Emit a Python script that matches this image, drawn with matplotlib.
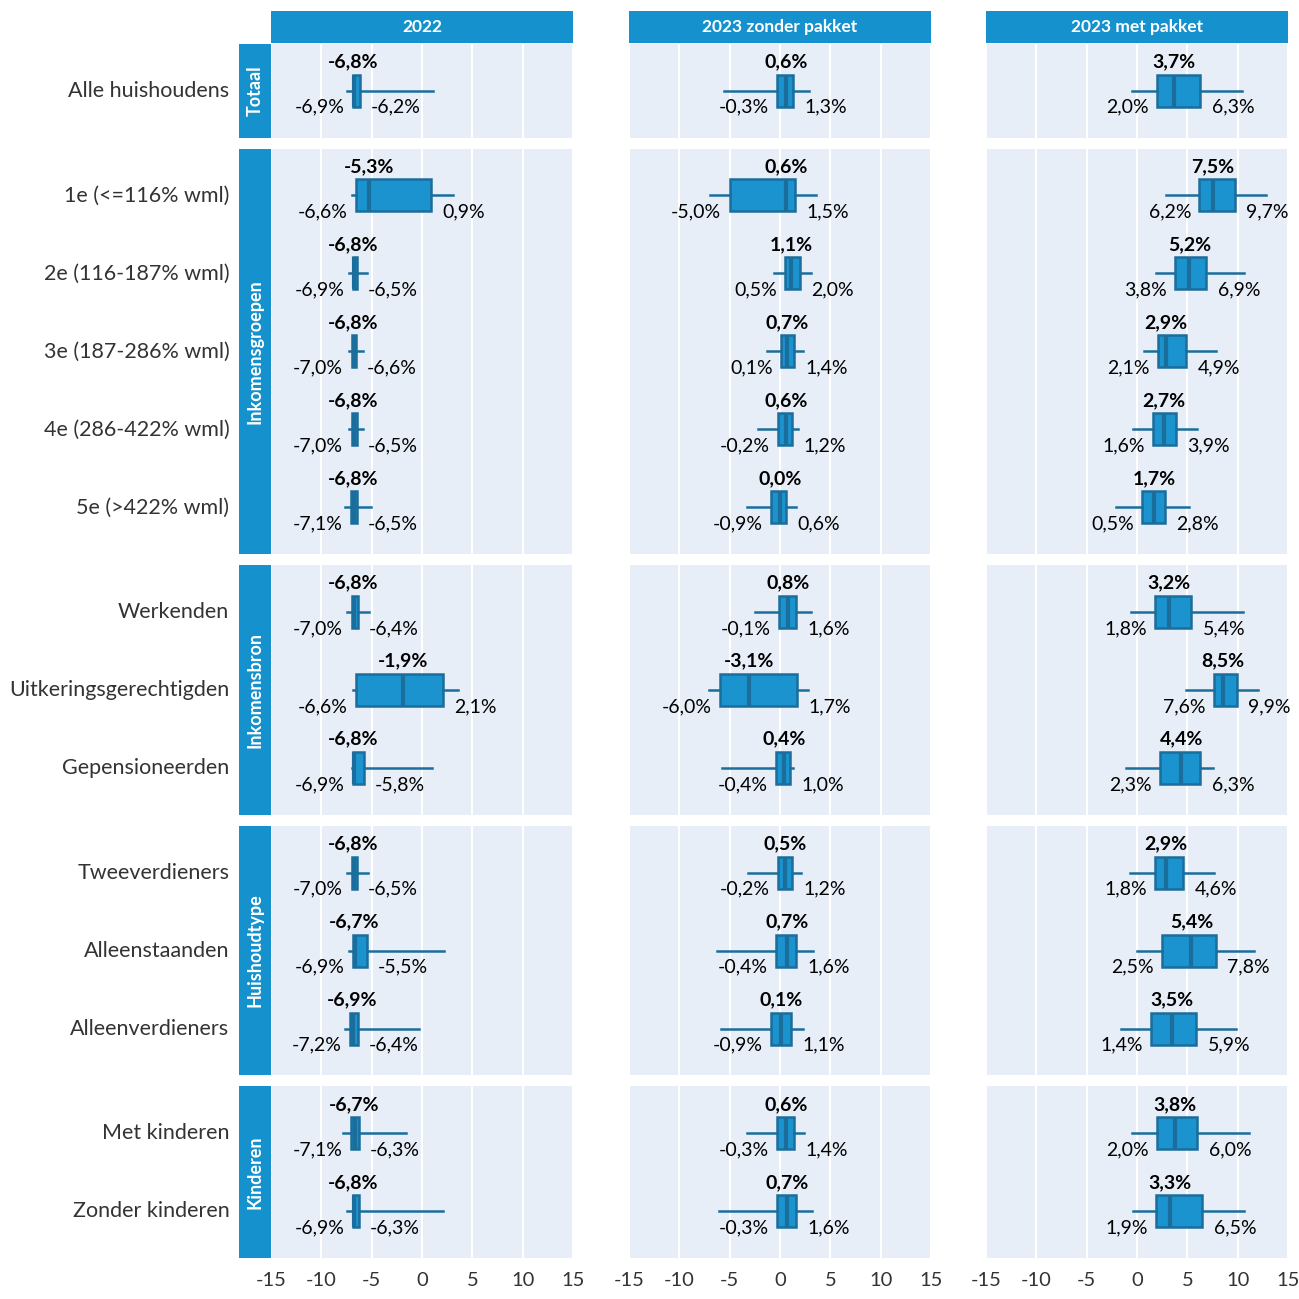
import matplotlib
matplotlib.use('Agg')
import matplotlib.pyplot as plt
from matplotlib.patches import Rectangle

plt.rcParams['font.family'] = ['Lato', 'DejaVu Sans']
plt.rcParams['axes.unicode_minus'] = False

# kolommen en groepen
columns = ['2022', '2023 zonder pakket', '2023 met pakket']
groups = ['Totaal', 'Inkomensgroepen', 'Inkomensbron', 'Huishoudtype', 'Kinderen']
group_sizes = [1, 5, 3, 3, 2]
categories = ['Alle huishoudens',
              '1e (<=116% wml)', '2e (116-187% wml)', '3e (187-286% wml)',
              '4e (286-422% wml)', '5e (>422% wml)',
              'Werkenden', 'Uitkeringsgerechtigden', 'Gepensioneerden',
              'Tweeverdieners', 'Alleenstaanden', 'Alleenverdieners',
              'Met kinderen', 'Zonder kinderen']

# 2022
med_2022 = [-6.8, -5.3, -6.8, -6.8, -6.8, -6.8, -6.8, -1.9, -6.8, -6.8, -6.7, -6.9, -6.7, -6.8]
q1_2022 = [-6.9, -6.6, -6.9, -7.0, -7.0, -7.1, -7.0, -6.6, -6.9, -7.0, -6.9, -7.2, -7.1, -6.9]
q3_2022 = [-6.2, 0.9, -6.5, -6.6, -6.5, -6.5, -6.4, 2.1, -5.8, -6.5, -5.5, -6.4, -6.3, -6.3]
lo_2022 = [-7.5, -7.0, -7.3, -7.3, -7.3, -7.6, -7.5, -6.9, -7.0, -7.5, -7.3, -7.6, -7.8, -7.5]
hi_2022 = [1.1, 3.1, -5.5, -5.9, -5.9, -5.1, -5.3, 3.6, 1.0, -5.4, 2.2, -0.3, -1.6, 2.1]

# 2023 zonder pakket
med_zonder = [0.6, 0.6, 1.1, 0.7, 0.6, 0.0, 0.8, -3.1, 0.4, 0.5, 0.7, 0.1, 0.6, 0.7]
q1_zonder = [-0.3, -5.0, 0.5, 0.1, -0.2, -0.9, -0.1, -6.0, -0.4, -0.2, -0.4, -0.9, -0.3, -0.3]
q3_zonder = [1.3, 1.5, 2.0, 1.4, 1.2, 0.6, 1.6, 1.7, 1.0, 1.2, 1.6, 1.1, 1.4, 1.6]
lo_zonder = [-5.6, -7.0, -0.6, -1.3, -2.2, -3.3, -2.5, -7.1, -5.8, -3.2, -6.3, -5.9, -3.3, -6.1]
hi_zonder = [2.9, 3.6, 3.1, 2.3, 1.8, 1.6, 3.1, 2.8, 1.3, 2.1, 3.3, 2.3, 2.4, 3.2]

# 2023 met pakket
med_met = [3.7, 7.5, 5.2, 2.9, 2.7, 1.7, 3.2, 8.5, 4.4, 2.9, 5.4, 3.5, 3.8, 3.3]
q1_met = [2.0, 6.2, 3.8, 2.1, 1.6, 0.5, 1.8, 7.6, 2.3, 1.8, 2.5, 1.4, 2.0, 1.9]
q3_met = [6.3, 9.7, 6.9, 4.9, 3.9, 2.8, 5.4, 9.9, 6.3, 4.6, 7.8, 5.9, 6.0, 6.5]
lo_met = [-0.5, 2.9, 1.9, 0.7, -0.4, -2.1, -0.6, 4.9, -1.1, -0.7, 0.0, -1.6, -0.5, -0.4]
hi_met = [10.4, 12.8, 10.6, 7.8, 6.0, 5.2, 10.5, 12.0, 7.5, 7.6, 11.6, 9.8, 11.1, 10.6]

xticks = [-15, -10, -5, 0, 5, 10, 15]

meds = [med_2022, med_zonder, med_met]
q1s = [q1_2022, q1_zonder, q1_met]
q3s = [q3_2022, q3_zonder, q3_met]
los = [lo_2022, lo_zonder, lo_met]
his = [hi_2022, hi_zonder, hi_met]

blue = '#1592cd'
fill = '#1a93ce'
edge = '#1b6d9c'
bg = '#e8eef8'
txt = '#333333'

W = H = 1299
fig = plt.figure(figsize=(12.99, 12.99), dpi=100)


def fx(px):
    return px / W


def fy(py):
    return 1 - py / H


def pct(v):
    return f'{v:.1f}'.replace('.', ',') + '%'


col_left = [271, 629, 986]
col_w = 302
unit = 78
top = 44
gap = 11

# kopjes boven de kolommen
for c, name in enumerate(columns):
    fig.add_artist(Rectangle((fx(col_left[c]), fy(43)), fx(col_w), 32 / H,
                             transform=fig.transFigure, color=blue, lw=0))
    fig.text(fx(col_left[c] + col_w / 2), fy(27), name, color='white',
             fontsize=12.5, fontweight='bold', ha='center', va='center')

start = 0
for g, n in enumerate(group_sizes):
    h = unit * (n + 0.2)
    # strip links
    fig.add_artist(Rectangle((fx(239), fy(top + h)), fx(32), h / H,
                             transform=fig.transFigure, color=blue, lw=0))
    fig.text(fx(255), fy(top + h / 2), groups[g], color='white', fontsize=13,
             fontweight='bold', rotation=90, ha='center', va='center')
    for c in range(3):
        ax = fig.add_axes([fx(col_left[c]), fy(top + h), fx(col_w), h / H])
        ax.set_facecolor(bg)
        idx = list(range(start, start + n))
        stats = [dict(med=meds[c][i], q1=q1s[c][i], q3=q3s[c][i],
                      whislo=los[c][i], whishi=his[c][i], fliers=[]) for i in idx]
        ax.bxp(stats, positions=list(range(n)), widths=0.41,
               orientation='horizontal', showcaps=False, showfliers=False,
               patch_artist=True,
               boxprops=dict(facecolor=fill, edgecolor=edge, linewidth=1.8),
               medianprops=dict(color=edge, linewidth=3),
               whiskerprops=dict(color=edge, linewidth=1.8))
        ax.set_xlim(-15, 15)
        ax.set_ylim(n - 1 + 0.6, -0.6)
        ax.set_xticks(xticks)
        ax.set_yticks([])
        ax.grid(axis='x', color='white', linewidth=1.5)
        ax.set_axisbelow(True)
        for s in ax.spines.values():
            s.set_visible(False)
        ax.tick_params(length=0, labelsize=14.5, labelcolor=txt, pad=10,
                       labelbottom=(g == len(group_sizes) - 1))
        for k, i in enumerate(idx):
            ax.annotate(pct(meds[c][i]), (meds[c][i], k - 0.37), ha='center',
                        va='center', fontsize=14, fontweight='bold', color='black')
            ax.annotate(pct(q1s[c][i]), (q1s[c][i], k + 0.21), xytext=(-6, 0),
                        textcoords='offset points', ha='right', va='center',
                        fontsize=14, color='black')
            ax.annotate(pct(q3s[c][i]), (q3s[c][i], k + 0.21), xytext=(8, 0),
                        textcoords='offset points', ha='left', va='center',
                        fontsize=14, color='black')
            if c == 0:
                ax.annotate(categories[i], (0, k), xycoords=('axes fraction', 'data'),
                            xytext=(-30, 0), textcoords='offset points',
                            ha='right', va='center', fontsize=15.5, color=txt)
    start += n
    top += h + gap

fig.savefig('out.png', dpi=100, facecolor='white')
